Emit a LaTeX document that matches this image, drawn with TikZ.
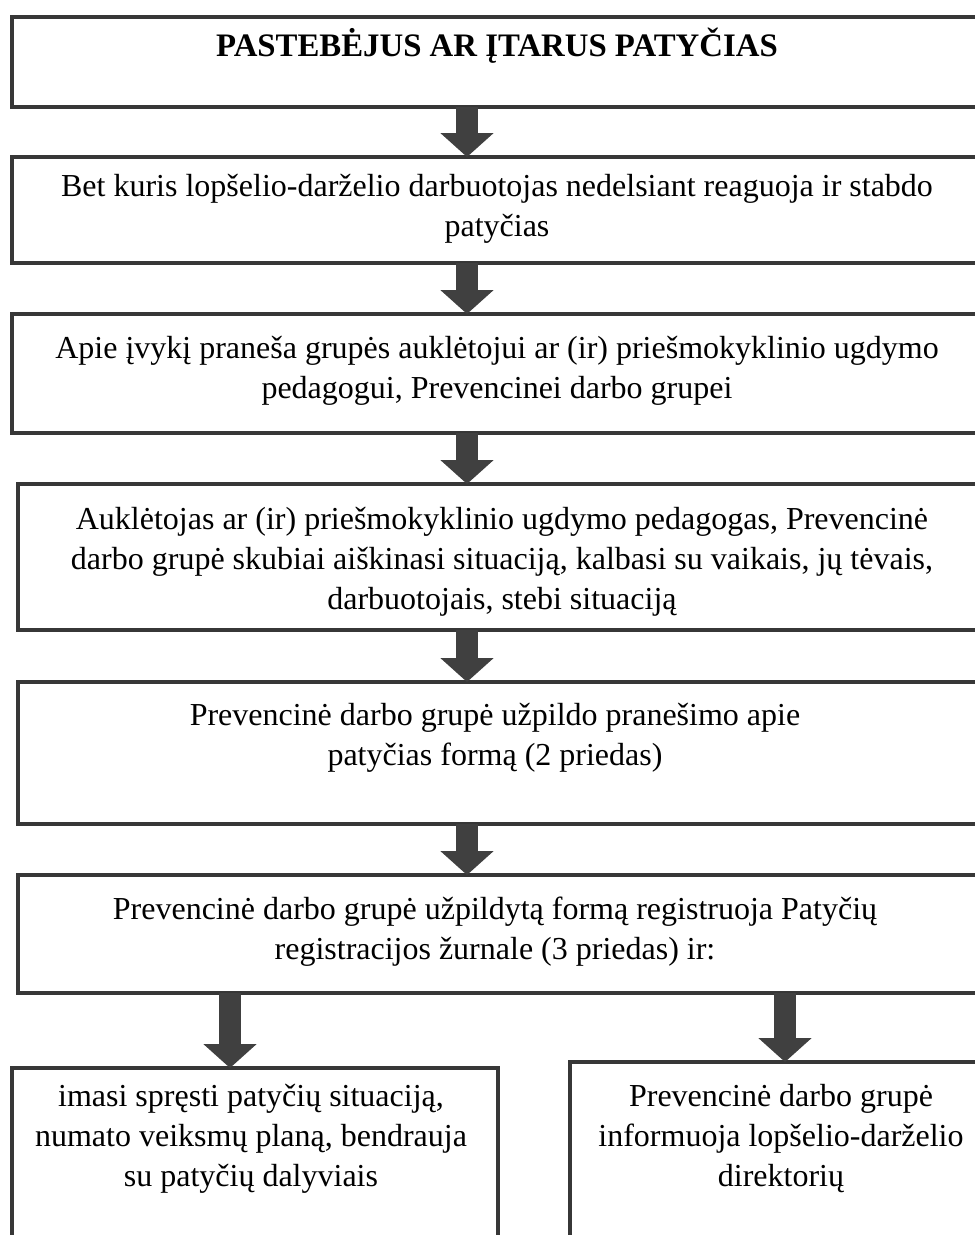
\documentclass[tikz,border=0pt]{standalone}
\usepackage{fontspec}
\setmainfont{Liberation Serif}
\usetikzlibrary{arrows.meta}
\definecolor{ink}{RGB}{55,55,55}
\definecolor{arr}{RGB}{64,64,64}
\begin{document}
\begin{tikzpicture}[x=1pt,y=-1pt,
  box/.style={draw=ink, line width=4.5pt, inner sep=0pt, outer sep=0pt, anchor=north west},
  txt/.style={align=center, font=\fontsize{32}{40}\selectfont, inner sep=0pt, text=black},
  fat/.style={draw=arr, line width=22pt, -{Triangle[length=24pt,width=52pt]}}]
\useasboundingbox (0,0) rectangle (975,1235);
\clip (0,0) rectangle (975,1235);
\fill[white] (0,0) rectangle (975,1235);
% boxes
\node[box, minimum width=973pt, minimum height=90pt] (b1) at (12,17) {};
\node[box, minimum width=973pt, minimum height=106pt] (b2) at (12,157) {};
\node[box, minimum width=973pt, minimum height=119pt] (b3) at (12,314) {};
\node[box, minimum width=967pt, minimum height=146pt] (b4) at (18,484) {};
\node[box, minimum width=967pt, minimum height=142pt] (b5) at (18,682) {};
\node[box, minimum width=967pt, minimum height=118pt] (b6) at (18,875) {};
\node[box, minimum width=486pt, minimum height=200pt] (b7) at (12,1068) {};
\node[box, minimum width=420pt, minimum height=200pt] (b8) at (570,1062) {};
% arrow columns
\coordinate (ax) at (467,0);
\coordinate (al) at (230,0);
\coordinate (ar) at (785,0);
\draw[fat] (b1.south -| ax) -- (b2.north -| ax);
\draw[fat] (b2.south -| ax) -- (b3.north -| ax);
\draw[fat] (b3.south -| ax) -- (b4.north -| ax);
\draw[fat] (b4.south -| ax) -- (b5.north -| ax);
\draw[fat] (b5.south -| ax) -- (b6.north -| ax);
\draw[fat] (b6.south -| al) -- (b7.north -| al);
\draw[fat] (b6.south -| ar) -- (b8.north -| ar);
% texts
\node[txt, font=\fontsize{32.8}{40}\selectfont\bfseries] (t1) at (497,46) {PASTEBĖJUS AR ĮTARUS PATYČIAS};
\node[txt] (t2) at (497,209) {Bet kuris lopšelio-darželio darbuotojas nedelsiant reaguoja ir stabdo\\patyčias};
\node[txt] (t3) at (497,371) {Apie įvykį praneša grupės auklėtojui ar (ir) priešmokyklinio ugdymo\\pedagogui, Prevencinei darbo grupei};
\node[txt] (t4) at (502,562) {Auklėtojas ar (ir) priešmokyklinio ugdymo pedagogas, Prevencinė\\darbo grupė skubiai aiškinasi situaciją, kalbasi su vaikais, jų tėvais,\\darbuotojais, stebi situaciją};
\node[txt] (t5) at (495,738) {Prevencinė darbo grupė užpildo pranešimo apie\\patyčias formą (2 priedas)};
\node[txt] (t6) at (495,932) {Prevencinė darbo grupė užpildytą formą registruoja Patyčių\\registracijos žurnale (3 priedas) ir:};
\node[txt] (t7) at (251,1139) {imasi spręsti patyčių situaciją,\\numato veiksmų planą, bendrauja\\su patyčių dalyviais};
\node[txt] (t8) at (781,1139) {Prevencinė darbo grupė\\informuoja lopšelio-darželio\\direktorių};
\end{tikzpicture}
\end{document}
